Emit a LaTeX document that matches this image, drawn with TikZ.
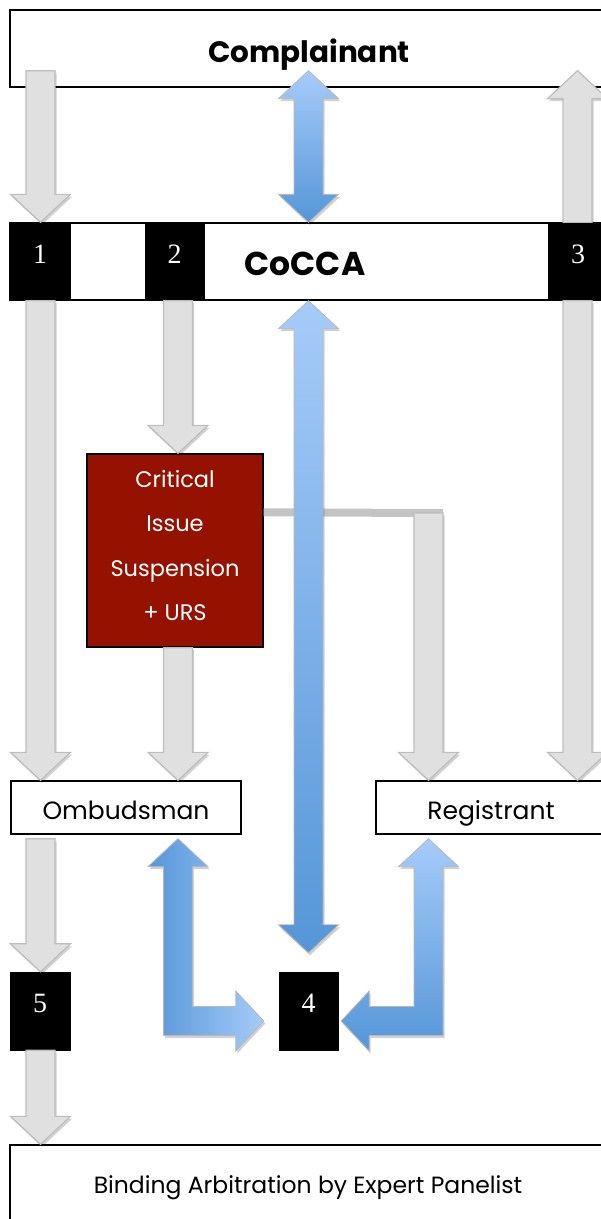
\documentclass[tikz,border=0pt]{standalone}
\usepackage{fontspec}
\setmainfont{Poppins}
\newfontfamily\digitfont{Liberation Serif}
\usetikzlibrary{calc,shadows}
\definecolor{greyfill}{HTML}{E0E0E0}
\definecolor{greyline}{HTML}{BDBDBD}
\definecolor{barcol}{HTML}{C4C4C4}
\definecolor{bluelight}{HTML}{A6CBF9}
\definecolor{bluedark}{HTML}{5596D8}
\definecolor{critred}{HTML}{951200}
\tikzset{
  box/.style={draw=black, line width=1.3pt, fill=white, rectangle, inner sep=0pt},
  numbox/.style={fill=black, draw=black, rectangle, inner sep=0pt, text=white,
    font=\digitfont\fontsize{28}{28}\selectfont, text height=20pt, text depth=17pt},
  plain/.style={font=\fontsize{25}{28}\selectfont, text height=23pt, text depth=0pt},
  bold/.style={font=\bfseries\fontsize{29.5}{32}\selectfont},
  softshadow/.style={drop shadow={shadow xshift=1.5pt, shadow yshift=-2.5pt, opacity=0.18, fill=black}},
  greyarrow/.style={softshadow, fill=greyfill, draw=greyline, line width=1.2pt},
  bluearrow/.style={softshadow, draw=black!28, line width=0.8pt},
  bluev/.style={bluearrow, top color=bluelight, bottom color=bluedark},
  blueh/.style={bluearrow, left color=bluedark, right color=bluelight},
}
% vertical block arrow: start, tip, signed head length
\newcommand\blkv[4][]{%
  \path[#1] let \p1=#2, \p2=#3 in
  ({\x2-14.5pt},\y1) -- ({\x2-14.5pt},{\y2+(#4)}) -- ({\x2-30pt},{\y2+(#4)}) -- (\x2,\y2)
  -- ({\x2+30pt},{\y2+(#4)}) -- ({\x2+14.5pt},{\y2+(#4)}) -- ({\x2+14.5pt},\y1) -- cycle;}
% vertical double block arrow: upper tip, lower tip
\newcommand\blkvv[3][]{%
  \path[#1] let \p1=#2, \p2=#3 in
  (\x1,\y1) -- ({\x1+30pt},{\y1-28pt}) -- ({\x1+14.5pt},{\y1-28pt}) -- ({\x1+14.5pt},{\y2+28pt})
  -- ({\x1+30pt},{\y2+28pt}) -- (\x1,\y2) -- ({\x1-30pt},{\y2+28pt}) -- ({\x1-14.5pt},{\y2+28pt})
  -- ({\x1-14.5pt},{\y1-28pt}) -- ({\x1-30pt},{\y1-28pt}) -- cycle;}
% bent block arrow: up tip, side tip, direction (1 right, -1 left)
\newcommand\blkbent[4][]{%
  \path[#1] let \p1=#2, \p2=#3 in
  (\x1,\y1) -- ({\x1+(#4)*30pt},{\y1-28pt}) -- ({\x1+(#4)*14.5pt},{\y1-28pt})
  -- ({\x1+(#4)*14.5pt},{\y2+14.5pt}) -- ({\x2-(#4)*28pt},{\y2+14.5pt}) -- ({\x2-(#4)*28pt},{\y2+30pt})
  -- (\x2,\y2) -- ({\x2-(#4)*28pt},{\y2-30pt}) -- ({\x2-(#4)*28pt},{\y2-14.5pt})
  -- ({\x1-(#4)*14.5pt},{\y2-14.5pt}) -- ({\x1-(#4)*14.5pt},{\y1-28pt}) -- ({\x1-(#4)*30pt},{\y1-28pt}) -- cycle;}

\begin{document}
\begin{tikzpicture}[x=1pt,y=-1pt]
\useasboundingbox (0,0) rectangle (601,1219);
\clip (0,0) rectangle (601,1219);
% lanes
\coordinate (L1) at (40.5,0);
\coordinate (L2) at (178,0);
\coordinate (L3) at (308.5,0);
\coordinate (L4) at (428.5,0);
\coordinate (L5) at (577.5,0);
% boxes
\node[box, bold, text height=27pt, text depth=0pt, minimum width=598pt, minimum height=77pt] (comp) at (309,48.5) {Complainant};
\node[box, minimum width=610pt, minimum height=77pt] (coc) at (315,261.5) {};
\node[numbox, minimum width=60pt, minimum height=77pt] (b1) at (40,261.5) {1};
\node[numbox, minimum width=59pt, minimum height=77pt] (b2) at (174.5,261.5) {2};
\node[numbox, minimum width=60pt, minimum height=77pt] (b3) at (578,261.5) {3};
\node[font=\bfseries\fontsize{33}{36}\selectfont] (cocL) at (305,264) {CoCCA};
\node[draw=black, line width=1.3pt, fill=critred, inner sep=0pt,
      minimum width=176pt, minimum height=193pt] (crit) at (175,550.5) {};
\node[text=white, align=center, font=\fontsize{22.5}{44.6}\selectfont] (critT) at (175,545.5)
      {Critical\\Issue\\Suspension\\+ URS};
\node[box, plain, minimum width=230pt, minimum height=53pt] (omb) at (126,807.5) {Ombudsman};
\node[box, plain, minimum width=230pt, minimum height=53pt] (reg) at (491,807.5) {Registrant};
\node[numbox, minimum width=60pt, minimum height=78pt] (n5) at (40,1011) {5};
\node[numbox, minimum width=59pt, minimum height=78pt] (n4) at (308.5,1011) {4};
\node[box, font=\fontsize{23.5}{26}\selectfont, text height=18pt, text depth=0pt, minimum width=596pt, minimum height=78pt] (bind) at (308,1184) {Binding Arbitration by Expert Panelist};
% grey connector bar
\coordinate (barend) at (443,513);
\draw[softshadow, draw=barcol, line width=8pt] ($(crit.north east)+(0,59)$) -- (barend);
% grey arrows
\blkv[greyarrow]{($(L1|-comp.south)+(0,-17)$)}{(L1|-coc.north)}{28pt}
\blkv[greyarrow]{(L5|-coc.north)}{($(L5|-comp.south)+(0,-17)$)}{-28pt}
\blkv[greyarrow]{(L1|-coc.south)}{(L1|-omb.north)}{28pt}
\blkv[greyarrow]{(L2|-coc.south)}{(L2|-crit.north)}{28pt}
\blkv[greyarrow]{(L2|-crit.south)}{(L2|-omb.north)}{28pt}
\blkv[greyarrow]{(barend)}{(L4|-reg.north)}{28pt}
\blkv[greyarrow]{(L5|-coc.south)}{(L5|-reg.north)}{28pt}
\blkv[greyarrow]{($(L1|-omb.south)+(0,4)$)}{(L1|-n5.north)}{28pt}
\blkv[greyarrow]{(L1|-n5.south)}{(L1|-bind.north)}{28pt}
% blue arrows
\blkvv[bluev]{($(L3|-comp.south)+(0,-17)$)}{(L3|-coc.north)}
\blkvv[bluev]{(L3|-coc.south)}{($(L3|-n4.north)+(0,-19)$)}
\blkbent[blueh]{($(L2|-omb.south)+(0,4)$)}{($(n4.west)+(-15,10)$)}{1}
\blkbent[bluev]{($(L4|-reg.south)+(0,4)$)}{($(n4.east)+(3,10)$)}{-1}
\end{tikzpicture}
\end{document}
